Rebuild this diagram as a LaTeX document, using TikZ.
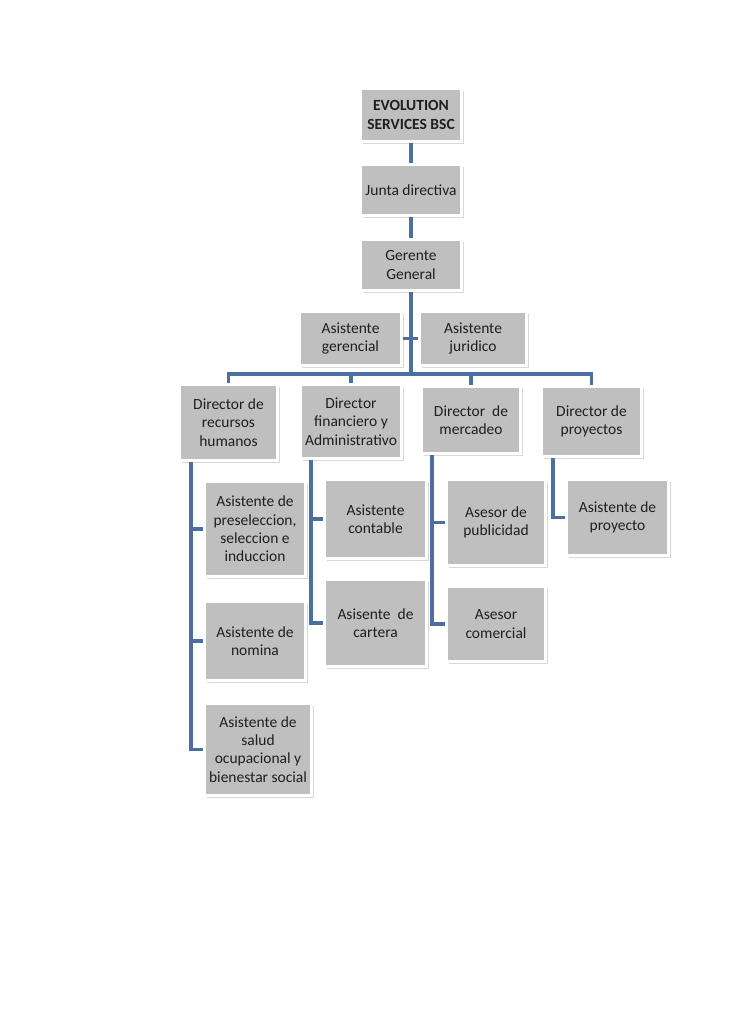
\documentclass[tikz,border=0pt]{standalone}
\usepackage{xcolor}
\usepackage{fontspec}
\setmainfont{Carlito}
\usepackage{tikz}
\usetikzlibrary{shadows}

\definecolor{boxgray}{HTML}{BFBFBF}
\definecolor{linkblue}{HTML}{4A6FA0}

\begin{document}
\begin{tikzpicture}[
  x=1pt, y=-1pt,
  every node/.style={font=\fontsize{15.5}{18.3}\selectfont},
  box/.style={fill=boxgray, draw=white, line width=3pt, align=center,
    text=black!88, inner sep=1pt,
    drop shadow={shadow xshift=2.5pt, shadow yshift=-2.5pt, fill=black!30, opacity=0.5}},
  boxsize/.style 2 args={minimum width={#1-3}, minimum height={#2-3}},
  link/.style={draw=linkblue, line width=3.2pt}
]
\useasboundingbox (0,0) rectangle (728,1030);
% top of the chart
\node[box, boxsize={104}{56}] (evo) at (411,115) {\bfseries EVOLUTION\\\bfseries SERVICES BSC};
\node[box, boxsize={104}{54}] (junta) at (411,190) {Junta directiva};
\node[box, boxsize={104}{54}] (gerente) at (411,265) {Gerente\\General};
\node[box, boxsize={105}{57}] (agerencial) at (350.5,338.5) {Asistente\\gerencial};
\node[box, boxsize={110}{57}] (ajuridico) at (473,338.5) {Asistente\\juridico};
% directors
\node[box, boxsize={101}{79}] (rrhh) at (228.5,422.5) {Director de\\recursos\\humanos};
\node[box, boxsize={104}{77}] (fin) at (351,421.5) {Director\\financiero y\\Administrativo};
\node[box, boxsize={102}{70}] (merc) at (471,420) {Director~ de\\mercadeo};
\node[box, boxsize={103}{73}] (proy) at (591.5,421.5) {Director de\\proyectos};
% assistants
\node[box, boxsize={104}{98}] (presel) at (255,529) {Asistente de\\preseleccion,\\seleccion e\\induccion};
\node[box, boxsize={104}{82}] (nomina) at (255,641) {Asistente de\\nomina};
\node[box, boxsize={110}{95}] (salud) at (258,749.5) {Asistente de\\salud\\ocupacional y\\bienestar social};
\node[box, boxsize={105}{82}] (contable) at (375.5,519) {Asistente\\contable};
\node[box, boxsize={105}{90}] (cartera) at (375.5,623) {Asisente~ de\\cartera};
\node[box, boxsize={102}{89}] (publicidad) at (496,522.5) {Asesor de\\publicidad};
\node[box, boxsize={102}{78}] (comercial) at (496,624) {Asesor\\comercial};
\node[box, boxsize={105}{79}] (aproy) at (617.5,517.5) {Asistente de\\proyecto};

% main line
\coordinate (bus) at (411,374);
\draw[link] (evo.south) -- (junta.north);
\draw[link] (junta.south) -- (gerente.north);
\draw[link] (gerente.south) -- (bus);
\draw[link] (agerencial.east) -- (ajuridico.west);
\draw[link] (rrhh.north) -- (rrhh.north |- bus) -- (proy.north |- bus) -- (proy.north);
\draw[link] (fin.north) -- (fin.north |- bus);
\draw[link] (merc.north) -- (merc.north |- bus);

% trunks under the directors
\coordinate (rrhhT) at (191,0);
\coordinate (finT) at (311,0);
\coordinate (mercT) at (432,0);
\coordinate (proyT) at (553,0);
\draw[link] (rrhh.south -| rrhhT) |- (salud.west);
\draw[link] (presel.west -| rrhhT) -- (presel.west);
\draw[link] (nomina.west -| rrhhT) -- (nomina.west);
\draw[link] (fin.south -| finT) |- (cartera.west);
\draw[link] (contable.west -| finT) -- (contable.west);
\draw[link] (merc.south -| mercT) |- (comercial.west);
\draw[link] (publicidad.west -| mercT) -- (publicidad.west);
\draw[link] (proy.south -| proyT) |- (aproy.west);
\end{tikzpicture}
\end{document}
